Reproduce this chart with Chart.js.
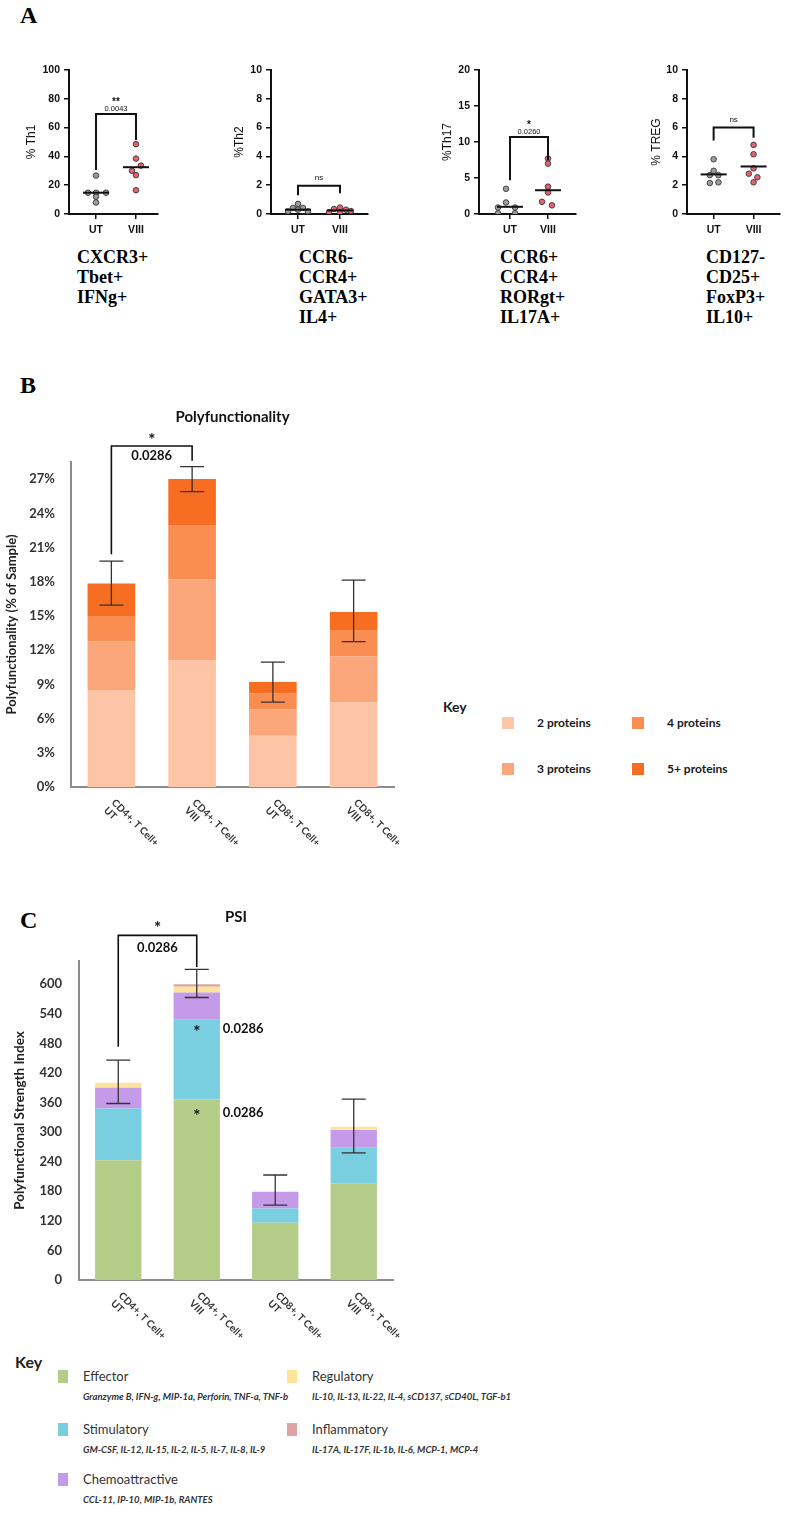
<!DOCTYPE html>
<html>
<head>
<meta charset="utf-8">
<title>Th subsets, polyfunctionality and PSI</title>
<script src="https://cdn.jsdelivr.net/npm/chart.js@4.4.1/dist/chart.umd.min.js"></script>
<style>
  body { margin: 0; background: #fff; }
  #page { position: relative; width: 785px; height: 1514px; overflow: hidden; }
  canvas { position: absolute; }
  .panel { position: absolute; font: bold 24px "Liberation Serif", serif; line-height: 24px; color: #000; }
  .marker { position: absolute; font: bold 18px "Liberation Serif", serif; line-height: 20px; color: #000; }
  .abs { position: absolute; font-family: Lato, sans-serif; color: #1a1a1a; white-space: nowrap; }
  .sq { position: absolute; }
</style>
</head>
<body>
<div id="page">
  <div class="panel" style="left:20px;top:3px">A</div>
  <div class="panel" style="left:20px;top:373px">B</div>
  <div class="panel" style="left:20px;top:908px">C</div>
  <canvas id="th1" width="170" height="185" style="left:0;top:55px"></canvas>
  <canvas id="th2" width="180" height="185" style="left:200px;top:55px"></canvas>
  <canvas id="th17" width="190" height="185" style="left:400px;top:55px"></canvas>
  <canvas id="treg" width="185" height="185" style="left:600px;top:55px"></canvas>
  <canvas id="poly" width="400" height="460" style="left:0;top:400px"></canvas>
  <canvas id="psi" width="400" height="450" style="left:0;top:895px"></canvas>
</div>
<script>
Chart.defaults.font.family = 'Lato, sans-serif';
Chart.defaults.color = '#222';

// ---- panel A : % of CD4+ T cells, one dot per donor ----
const groups = ['UT', 'VIII'];
const th1UT = [26.7, 14.8, 14.8, 14.8, 12, 8];
const th1VIII = [48.5, 38.5, 33.6, 30, 27, 16.5];
const th1Median = [14.8, 32.5];
const th2UT = [0.7, 0.42, 0.42, 0.3, 0.18, 0.18];
const th2VIII = [0.45, 0.35, 0.3, 0.2, 0.12, 0.08];
const th2Median = [0.3, 0.25];
const th17UT = [3.5, 1.6, 0.9, 0.9, 0.1, 0.1];
const th17VIII = [7.7, 7.0, 3.8, 3.0, 1.7, 1.2];
const th17Median = [1.0, 3.3];
const tregUT = [3.8, 3.0, 2.7, 2.7, 2.15, 2.2];
const tregVIII = [4.8, 4.15, 3.17, 2.8, 2.55, 2.2];
const tregMedian = [2.75, 3.3];
const aTitles = ['% Th1', '%Th2', '%Th17', '% TREG'];
const aMax = [100, 10, 20, 10];
const aStep = [20, 2, 5, 2];
const aSig = ['**', 'ns', '*', 'ns'];
const aP = ['0.0043', '', '0.0260', ''];
const phenotypes = [
  ['CXCR3+', 'Tbet+', 'IFNg+'],
  ['CCR6-', 'CCR4+', 'GATA3+', 'IL4+'],
  ['CCR6+', 'CCR4+', 'RORgt+', 'IL17A+'],
  ['CD127-', 'CD25+', 'FoxP3+', 'IL10+']
];

// ---- panel B : polyfunctionality (% of sample) ----
const cellGroups = [['CD4+, T Cell+', 'UT'], ['CD4+, T Cell+', 'VIII'], ['CD8+, T Cell+', 'UT'], ['CD8+, T Cell+', 'VIII']];
const proteinKeys = ['2 proteins', '3 proteins', '4 proteins', '5+ proteins'];
const p2 = [8.5, 11.1, 4.5, 7.4];
const p3 = [4.25, 7.1, 2.3, 4.05];
const p4 = [2.25, 4.7, 1.4, 2.25];
const p5 = [2.85, 4.1, 1.0, 1.65];
const polyErrLow = [15.95, 25.9, 7.45, 12.75];
const polyErrHigh = [19.8, 28.1, 10.95, 18.15];

// ---- panel C : polyfunctional strength index ----
const psiKeys = ['Effector', 'Stimulatory', 'Chemoattractive', 'Regulatory', 'Inflammatory'];
const psiMembers = [
  'Granzyme B, IFN-g, MIP-1a, Perforin, TNF-a, TNF-b',
  'GM-CSF, IL-12, IL-15, IL-2, IL-5, IL-7, IL-8, IL-9',
  'CCL-11, IP-10, MIP-1b, RANTES',
  'IL-10, IL-13, IL-22, IL-4, sCD137, sCD40L, TGF-b1',
  'IL-17A, IL-17F, IL-1b, IL-6, MCP-1, MCP-4'
];
const effector = [243, 366, 116, 196];
const stimulatory = [105, 162, 29, 72];
const chemoattractive = [42, 55, 34, 36];
const regulatory = [10, 12, 0, 7];
const inflammatory = [0, 5, 0, 0];
const psiErrLow = [358, 573, 152, 258];
const psiErrHigh = [446, 630, 213, 367];

const proteinColors = ['#fdc5a6', '#fba77b', '#f98d52', '#f76e22'];
const psiColors = ['#b3cd88', '#79cfe0', '#c59ae8', '#fde49a', '#dfa3a6'];

// ---------- small plugins ----------
const onStep = (v, s) => Math.abs(v / s - Math.round(v / s)) < 1e-6;

const medianPlugin = {
  id: 'medians',
  afterDatasetsDraw(chart, args, o) {
    const {ctx, scales: {x, y}} = chart;
    ctx.save();
    ctx.strokeStyle = '#111';
    ctx.lineWidth = 2;
    o.values.forEach((m, i) => {
      const cx = x.getPixelForValue(i + 1), cy = y.getPixelForValue(m);
      ctx.beginPath();
      ctx.moveTo(cx - o.half, cy);
      ctx.lineTo(cx + o.half, cy);
      ctx.stroke();
    });
    ctx.restore();
  }
};

const bracketPlugin = {
  id: 'bracket',
  afterDraw(chart, args, o) {
    const {ctx, scales: {x, y}} = chart;
    const x1 = x.getPixelForValue(o.from), x2 = x.getPixelForValue(o.to);
    const yt = y.getPixelForValue(o.top);
    ctx.save();
    ctx.strokeStyle = '#111';
    ctx.lineWidth = o.width;
    ctx.beginPath();
    ctx.moveTo(x1, y.getPixelForValue(o.left));
    ctx.lineTo(x1, yt);
    ctx.lineTo(x2, yt);
    ctx.lineTo(x2, y.getPixelForValue(o.right));
    ctx.stroke();
    ctx.fillStyle = '#111';
    ctx.textAlign = 'center';
    ctx.textBaseline = 'middle';
    o.texts.forEach(t => {
      if (!t.text) return;
      ctx.font = t.font;
      ctx.fillText(t.text, (x1 + x2) / 2, yt + t.dy);
    });
    ctx.restore();
  }
};

const errPlugin = {
  id: 'errbars',
  afterDatasetsDraw(chart, args, o) {
    const {ctx, scales: {x, y}} = chart;
    ctx.save();
    ctx.strokeStyle = '#333';
    ctx.lineWidth = 1.3;
    o.low.forEach((lo, i) => {
      const cx = x.getPixelForValue(i);
      const y1 = y.getPixelForValue(lo), y2 = y.getPixelForValue(o.high[i]);
      ctx.beginPath();
      ctx.moveTo(cx, y1); ctx.lineTo(cx, y2);
      ctx.moveTo(cx - o.half, y1); ctx.lineTo(cx + o.half, y1);
      ctx.moveTo(cx - o.half, y2); ctx.lineTo(cx + o.half, y2);
      ctx.stroke();
    });
    ctx.restore();
  }
};

// x labels slanted downwards to the right
const slantPlugin = {
  id: 'slant',
  afterDraw(chart, args, o) {
    const {ctx, scales: {x}, chartArea} = chart;
    ctx.save();
    ctx.font = o.font;
    ctx.fillStyle = '#333';
    ctx.textAlign = 'left';
    ctx.textBaseline = 'middle';
    chart.data.labels.forEach((lab, i) => {
      ctx.save();
      ctx.translate(x.getPixelForValue(i) + o.dx, chartArea.bottom + o.dy);
      ctx.rotate(Math.PI / 4);
      lab.forEach((line, k) => ctx.fillText(line, 0, k * o.gap));
      ctx.restore();
    });
    ctx.restore();
  }
};

const notePlugin = {
  id: 'notes',
  afterDraw(chart, args, o) {
    const {ctx, scales: {x, y}} = chart;
    ctx.save();
    ctx.fillStyle = '#111';
    ctx.textBaseline = 'middle';
    o.items.forEach(n => {
      const cx = x.getPixelForValue(n.i), cy = y.getPixelForValue(n.y);
      ctx.font = 'bold 17px Lato';
      ctx.textAlign = 'center';
      ctx.fillText(n.star, cx, cy + 3.5);
      ctx.font = 'bold 13px Lato';
      ctx.textAlign = 'left';
      ctx.fillText(n.p, cx + 26, cy);
    });
    ctx.restore();
  }
};

// ---------- panel A ----------
const aLayout = [
  {id: 'th1', axisW: 69, padR: 12, xMin: 0.325, xMax: 2.55, px: 40, titlePad: 24,
   jitUT: [0, -8, 10, 0, 0, 0], jitVIII: [0, 0, 5, -4, 0, 0],
   br: {left: 30.6, top: 69.4, right: 51.4}, dySig: -12, dyP: -5},
  {id: 'th2', axisW: 71, padR: 12, xMin: 0.357, xMax: 2.667, px: 42, titlePad: 32,
   jitUT: [0, -5, 5, 0, -10, 10], jitVIII: [0, -6, 6, 11, -11, 0],
   br: {left: 1.3, top: 1.97, right: 1.44}, dySig: -8, dyP: 0},
  {id: 'th17', axisW: 79, padR: 14, xMin: 0.184, xMax: 2.737, px: 38, titlePad: 40,
   jitUT: [-4, -4, -12, 5, -12, 5], jitVIII: [0, 0, 0, 0, -6, 4],
   br: {left: 4.7, top: 10.7, right: 7.5}, dySig: -12, dyP: -5},
  {id: 'treg', axisW: 87, padR: 0, xMin: 0.333, xMax: 2.667, px: 42, titlePad: 49,
   jitUT: [0, 0, -4, 5, -4, 5], jitVIII: [0, 0, 0, -5, 4, 0],
   br: {left: 5.1, top: 6.0, right: 5.3}, dySig: -8, dyP: 0}
];
const aData = [[th1UT, th1VIII, th1Median], [th2UT, th2VIII, th2Median],
               [th17UT, th17VIII, th17Median], [tregUT, tregVIII, tregMedian]];

const axisFont = {family: 'Liberation Sans', weight: 'bold', size: 10.5};
aLayout.forEach((L, c) => {
  const [ut, viii, med] = aData[c];
  const pts = (vals, cat, jit) => vals.map((v, k) => ({x: cat + jit[k] / L.px, y: v}));
  const sigFont = aSig[c] === 'ns' ? '8px "Liberation Sans"' : 'bold 10px "Liberation Sans"';
  new Chart(document.getElementById(L.id), {
    type: 'scatter',
    data: {
      datasets: [
        {label: 'UT', data: pts(ut, 1, L.jitUT), backgroundColor: '#9b9b9b',
         borderColor: '#2a2a2a', borderWidth: 0.8, pointRadius: 2.8},
        {label: 'VIII', data: pts(viii, 2, L.jitVIII), backgroundColor: '#e2636f',
         borderColor: '#2a2a2a', borderWidth: 0.8, pointRadius: 2.8}
      ]
    },
    options: {
      responsive: false, animation: false, events: [],
      layout: {padding: {top: 15, right: L.padR, left: 0, bottom: 0}},
      plugins: {
        legend: {display: false}, tooltip: {enabled: false},
        medians: {values: med, half: 13},
        bracket: {from: 1, to: 2, left: L.br.left, top: L.br.top, right: L.br.right, width: 2,
          texts: [{text: aSig[c], dy: L.dySig, font: sigFont},
                  {text: aP[c], dy: L.dyP, font: '7.5px "Liberation Sans"'}]}
      },
      scales: {
        x: {
          type: 'linear', min: L.xMin, max: L.xMax,
          afterBuildTicks: s => { s.ticks = [{value: 1}, {value: 2}]; },
          afterFit: s => { s.height = 26; },
          ticks: {callback: v => groups[v - 1], font: axisFont, color: '#111', padding: 5, maxRotation: 0},
          grid: {drawOnChartArea: false, color: '#111', lineWidth: 1.5, tickLength: 5},
          border: {color: '#111', width: 2}
        },
        y: {
          min: 0, max: aMax[c],
          afterFit: s => { s.width = L.axisW; },
          ticks: {stepSize: aStep[c], font: axisFont, color: '#111', padding: 4},
          grid: {drawOnChartArea: false, color: '#111', lineWidth: 1.5, tickLength: 5},
          border: {color: '#111', width: 2},
          title: {display: true, text: aTitles[c], font: {family: 'Liberation Sans', size: 12},
                  color: '#111', padding: {top: L.titlePad, bottom: 0}}
        }
      }
    },
    plugins: [medianPlugin, bracketPlugin]
  });
});

const page = document.getElementById('page');
function addDiv(cls, css, html) {
  const d = document.createElement('div');
  d.className = cls;
  d.style.cssText = css;
  d.innerHTML = html;
  page.appendChild(d);
  return d;
}
[77, 299, 500, 706].forEach((left, c) => {
  addDiv('marker', `left:${left}px;top:247px`, phenotypes[c].join('<br>'));
});

// ---------- panel B ----------
const polySeries = [p2, p3, p4, p5];
new Chart(document.getElementById('poly'), {
  type: 'bar',
  data: {
    labels: cellGroups,
    datasets: proteinKeys.map((k, j) => ({
      label: k, data: polySeries[j], backgroundColor: proteinColors[j],
      barPercentage: 0.59, categoryPercentage: 1
    }))
  },
  options: {
    responsive: false, animation: false, events: [],
    layout: {padding: {left: 0, right: 6, top: 0, bottom: 73}},
    plugins: {
      legend: {display: false}, tooltip: {enabled: false},
      title: {display: true, fullSize: false, text: 'Polyfunctionality', color: '#111',
              font: {size: 15, weight: 'bold'}, padding: {top: 8, bottom: 36}},
      errbars: {low: polyErrLow, high: polyErrHigh, half: 12},
      bracket: {from: 0, to: 1, left: 20.4, top: 29.9, right: 28.6, width: 1.6,
        texts: [{text: '*', dy: -6, font: 'bold 17px Lato'},
                {text: '0.0286', dy: 9.5, font: 'bold 13px Lato'}]},
      slant: {dx: 2, dy: 14, gap: 11, font: 'bold 10px Lato'}
    },
    scales: {
      x: {stacked: true, ticks: {display: false}, grid: {display: false, drawTicks: false},
          border: {color: '#8c8c8c', width: 2}},
      y: {
        stacked: true, min: 0, max: 28.5,
        afterFit: s => { s.width = 71; },
        ticks: {stepSize: 3, padding: 16, color: '#333', font: {size: 13, weight: 'bold'},
                callback: v => onStep(v, 3) ? Math.round(v) + '%' : ''},
        grid: {display: false, drawTicks: false},
        border: {color: '#8c8c8c', width: 2},
        title: {display: true, text: 'Polyfunctionality (% of Sample)', color: '#222',
                font: {size: 13, weight: 'bold'}, padding: {top: 4, bottom: 0}}
      }
    }
  },
  plugins: [errPlugin, bracketPlugin, slantPlugin]
});

// key B
addDiv('abs', 'left:443px;top:698px;font-size:14px;font-weight:bold;line-height:18px', 'Key');
const polyKeyPos = [[502, 717], [502, 763], [632, 717], [632, 763]];
proteinKeys.forEach((k, j) => {
  const [x, y] = polyKeyPos[j];
  addDiv('sq', `left:${x}px;top:${y}px;width:12px;height:12px;background:${proteinColors[j]}`, '');
  addDiv('abs', `left:${x + 35}px;top:${y - 1}px;font-size:12px;font-weight:bold;line-height:14px`, k);
});

// ---------- panel C ----------
const psiSeries = [effector, stimulatory, chemoattractive, regulatory, inflammatory];
new Chart(document.getElementById('psi'), {
  type: 'bar',
  data: {
    labels: cellGroups,
    datasets: psiKeys.map((k, j) => ({
      label: k, data: psiSeries[j], backgroundColor: psiColors[j],
      barPercentage: 0.59, categoryPercentage: 1
    }))
  },
  options: {
    responsive: false, animation: false, events: [],
    layout: {padding: {left: 0, right: 7, top: 0, bottom: 65}},
    plugins: {
      legend: {display: false}, tooltip: {enabled: false},
      title: {display: true, fullSize: false, text: 'PSI', color: '#111',
              font: {size: 15, weight: 'bold'}, padding: {top: 13, bottom: 35}},
      errbars: {low: psiErrLow, high: psiErrHigh, half: 12},
      bracket: {from: 0, to: 1, left: 473, top: 699, right: 635, width: 1.6,
        texts: [{text: '*', dy: -6.5, font: 'bold 17px Lato'},
                {text: '0.0286', dy: 12, font: 'bold 13px Lato'}]},
      notes: {items: [{i: 1, y: 509, star: '*', p: '0.0286'}, {i: 1, y: 338.5, star: '*', p: '0.0286'}]},
      slant: {dx: 2, dy: 14, gap: 11, font: 'bold 10px Lato'}
    },
    scales: {
      x: {stacked: true, ticks: {display: false}, grid: {display: false, drawTicks: false},
          border: {color: '#8c8c8c', width: 2}},
      y: {
        stacked: true, min: 0, max: 647,
        afterFit: s => { s.width = 79; },
        ticks: {stepSize: 60, padding: 17, color: '#333', font: {size: 13, weight: 'bold'},
                callback: v => onStep(v, 60) ? String(Math.round(v)) : ''},
        grid: {display: false, drawTicks: false},
        border: {color: '#8c8c8c', width: 2},
        title: {display: true, text: 'Polyfunctional Strength Index', color: '#222',
                font: {size: 13.5, weight: 'bold'}, padding: {top: 12, bottom: 0}}
      }
    }
  },
  plugins: [errPlugin, bracketPlugin, notePlugin, slantPlugin]
});

// key C
addDiv('abs', 'left:15px;top:1352px;font-size:16px;font-weight:bold;line-height:20px;color:#222', 'Key');
const psiKeyPos = [[58, 1370], [58, 1423], [58, 1473], [287, 1370], [287, 1423]];
psiKeys.forEach((k, j) => {
  const [x, y] = psiKeyPos[j];
  addDiv('sq', `left:${x}px;top:${y}px;width:10px;height:13px;background:${psiColors[j]}`, '');
  addDiv('abs', `left:${x + 25}px;top:${y - 2}px;font-size:13px;line-height:16px;color:#333`, k);
  addDiv('abs', `left:${x + 25}px;top:${y + 21}px;font-size:9.5px;line-height:12px;font-weight:bold;font-style:italic;color:#333`, psiMembers[j]);
});
</script>
</body>
</html>
